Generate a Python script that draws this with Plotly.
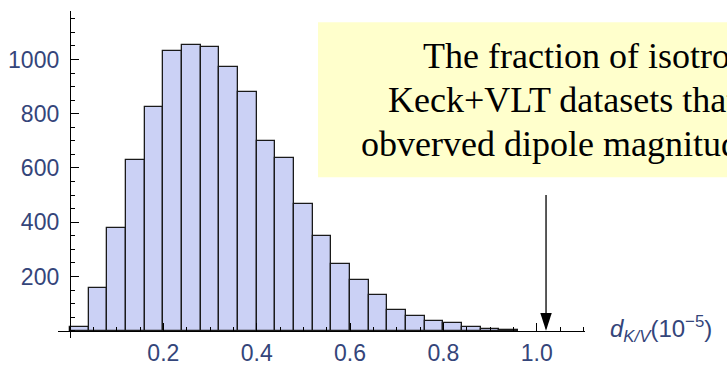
import plotly.graph_objects as go

# Histogram of simulated dipole magnitudes (bin left edges and counts)
bin_left = [0.00, 0.04, 0.08, 0.12, 0.16, 0.20, 0.24, 0.28, 0.32, 0.36, 0.40, 0.44,
            0.48, 0.52, 0.56, 0.60, 0.64, 0.68, 0.72, 0.76, 0.80, 0.84, 0.88, 0.92]
counts = [15, 156, 378, 629, 826, 1032, 1055, 1048, 972, 882, 698, 636,
          466, 348, 246, 187, 130, 76, 55, 35, 27, 15, 8, 4]
bin_width = 0.04

# Observed dipole magnitude, marked with an arrow
observed_dipole = 1.02
arrow_top = 500

x_tick_vals = [0.2, 0.4, 0.6, 0.8, 1.0]
x_tick_text = ["0.2", "0.4", "0.6", "0.8", "1.0"]
y_tick_vals = [200, 400, 600, 800, 1000]
y_tick_text = ["200", "400", "600", "800", "1000"]

note_lines = ["The fraction of isotropic",
              "Keck+VLT datasets that",
              "obverved dipole magnitude"]
axis_label = "<i>d</i><sub><i>K/V</i></sub>(10<sup>\u22125</sup>)"

# ---- layout geometry (pixels) ----
W, H = 727, 365
ML, MR, MT, MB = 58, 142, 11, 27
PW, PH = W - ML - MR, H - MT - MB
x_range = [-0.0257, 1.1035]
y_range = [-26.9, 1178.9]


def px_x(px):
    return (px - ML) / PW


def px_y(py):
    return (H - MB - py) / PH


def frac_x(v):
    return (v - x_range[0]) / (x_range[1] - x_range[0])


def frac_y(v):
    return (v - y_range[0]) / (y_range[1] - y_range[0])


label_color = "#34457a"
tick_font = dict(family="Arial, Liberation Sans, sans-serif", size=23, color=label_color)

fig = go.Figure()

fig.add_trace(go.Bar(
    x=[b + bin_width / 2 for b in bin_left],
    y=counts,
    width=bin_width,
    marker=dict(color="#CBD1F5", line=dict(color="#1a1a1a", width=1.3)),
    hoverinfo="skip",
))

# arrow shaft and head
fig.add_trace(go.Scatter(
    x=[observed_dipole, observed_dipole], y=[9, arrow_top],
    mode="lines", line=dict(color="black", width=1.3),
    hoverinfo="skip", cliponaxis=False,
))
fig.add_trace(go.Scatter(
    x=[observed_dipole], y=[0], mode="markers",
    marker=dict(symbol="arrow", angle=180, size=18.5, color="black",
                line=dict(width=0)),
    hoverinfo="skip", cliponaxis=False,
))

axis_common = dict(
    showline=True, linecolor="black", linewidth=1.3,
    ticks="inside", tickcolor="black", tickwidth=1.3, ticklen=8,
    showgrid=False, zeroline=False, anchor="free",
    tickfont=tick_font, tickmode="array",
)

fig.update_layout(
    width=W, height=H,
    margin=dict(l=ML, r=MR, t=MT, b=MB, autoexpand=False),
    paper_bgcolor="white", plot_bgcolor="white",
    showlegend=False, bargap=0, hovermode=False,
    xaxis=dict(
        range=x_range, tickvals=x_tick_vals, ticktext=x_tick_text,
        position=frac_y(0), ticklabelstandoff=2,
        minor=dict(ticks="inside", ticklen=4, tickwidth=1.2, tickcolor="black",
                   tickmode="linear", tick0=0, dtick=0.05, showgrid=False),
        **axis_common,
    ),
    yaxis=dict(
        range=y_range, tickvals=y_tick_vals, ticktext=y_tick_text,
        position=frac_x(0), ticklabelstandoff=6,
        minor=dict(ticks="inside", ticklen=4, tickwidth=1.2, tickcolor="black",
                   tickmode="linear", tick0=0, dtick=50, showgrid=False),
        **axis_common,
    ),
)

# note box
fig.add_shape(type="rect", xref="paper", yref="paper",
              x0=px_x(318), x1=px_x(760), y0=px_y(177.3), y1=px_y(22.3),
              fillcolor="#FFFFCC", line=dict(width=0), layer="above")

note_starts = [421, 386, 359]
note_centers = [55.5, 99.5, 144.0]
for text, x0, yc in zip(note_lines, note_starts, note_centers):
    fig.add_annotation(
        text=text, xref="paper", yref="paper", x=px_x(x0), y=px_y(yc),
        xanchor="left", yanchor="middle", showarrow=False,
        font=dict(family="Liberation Serif, Times New Roman, serif", size=36, color="black"),
    )

fig.add_annotation(
    text=axis_label, xref="paper", yref="paper", x=px_x(608), y=px_y(329),
    xanchor="left", yanchor="middle", showarrow=False,
    font=dict(family="Arial, Liberation Sans, sans-serif", size=24, color=label_color),
)

fig.write_html("out.html")
